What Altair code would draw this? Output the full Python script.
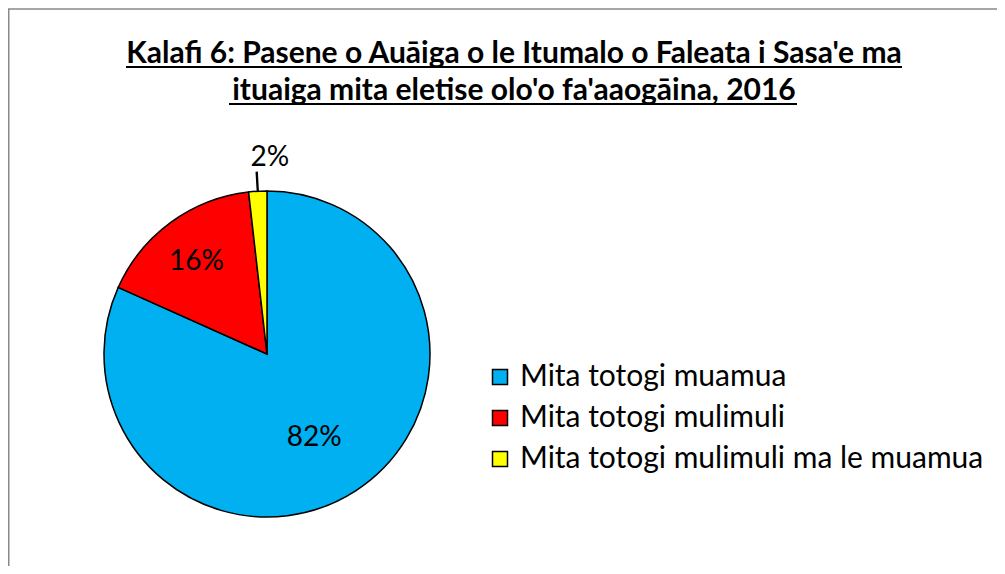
import altair as alt
import pandas as pd

categories = ["Mita totogi muamua", "Mita totogi mulimuli", "Mita totogi mulimuli ma le muamua"]
values = [81.7, 16.5, 1.8]
labels = ["82%", "16%", "2%"]
colors = ["#00B0F0", "#FF0000", "#FFFF00"]
order = [0, 1, 2]

title_lines = ["Kalafi 6: Pasene o Auāiga o le Itumalo o Faleata i Sasa'e ma",
               "ituaiga mita eletise olo'o fa'aaogāina, 2016"]

FONT = "Lato"
CX, CY, R = 259, 346, 163

df = pd.DataFrame({"category": categories, "value": values, "label": labels, "order": order})
one = pd.DataFrame({"a": [0]})

base = alt.Chart(df).transform_joinaggregate(total="sum(value)").transform_window(
    cum="sum(value)", sort=[alt.SortField("order")], frame=[None, 0]
).transform_calculate(
    start="(datum.cum - datum.value) / datum.total * 2 * PI",
    end="datum.cum / datum.total * 2 * PI",
    mid="(datum.cum - datum.value / 2) / datum.total * 2 * PI",
    mid_a="(datum.cum - datum.value / 2) / datum.total * 2 * PI - 0.003",
    mid_b="(datum.cum - datum.value / 2) / datum.total * 2 * PI + 0.003",
)

color = alt.Color(
    "category:N",
    scale=alt.Scale(domain=categories, range=colors),
    sort=categories,
    legend=alt.Legend(
        title=None, orient="none", legendX=477, legendY=354,
        symbolType="square", symbolSize=225, symbolStrokeColor="black",
        symbolStrokeWidth=1.5, symbolOpacity=1, labelFont=FONT, labelFontSize=30,
        labelColor="black", labelOffset=5, rowPadding=11, labelLimit=700,
    ),
)

pie = base.mark_arc(radius=R, stroke="black", strokeWidth=1.5).encode(
    x=alt.value(CX), y=alt.value(CY),
    theta=alt.Theta("start:Q", scale=None), theta2="end:Q",
    color=color,
)

def label_layer(idx, radius, dx=0, dy=0):
    return base.transform_filter(f"datum.order == {idx}").mark_text(
        radius=radius, font=FONT, fontSize=28, color="black",
        align="center", baseline="middle", dx=dx, dy=dy,
    ).encode(x=alt.value(CX), y=alt.value(CY),
             theta=alt.Theta("mid:Q", scale=None), text="label:N")

lab_blue = label_layer(0, 96, dx=-5, dy=3)
lab_red = label_layer(1, 116, dx=-2, dy=2)
lab_yel = label_layer(2, 196, dx=14)

leader = base.transform_filter("datum.order == 2").mark_arc(
    radius=R + 19, radius2=R, stroke="black", strokeWidth=1.3, fill="black"
).encode(x=alt.value(CX), y=alt.value(CY),
         theta=alt.Theta("mid_a:Q", scale=None), theta2="mid_b:Q")

t1 = alt.Chart(one).mark_text(font=FONT, fontSize=30, fontWeight="bold", color="black",
                              align="center", baseline="alphabetic").encode(
    x=alt.value(506), y=alt.value(55), text=alt.value(title_lines[0]))
t2 = alt.Chart(one).mark_text(font=FONT, fontSize=30, fontWeight="bold", color="black",
                              align="center", baseline="alphabetic").encode(
    x=alt.value(506), y=alt.value(92), text=alt.value(title_lines[1]))
u1 = alt.Chart(one).mark_rule(color="black", strokeWidth=2).encode(
    x=alt.value(118), x2=alt.value(894), y=alt.value(59))
u2 = alt.Chart(one).mark_rule(color="black", strokeWidth=2).encode(
    x=alt.value(221), x2=alt.value(789), y=alt.value(96))

border_l = alt.Chart(one).mark_rule(color="#898989", strokeWidth=1.5).encode(
    x=alt.value(0.75), y=alt.value(1), y2=alt.value(560))
border_t = alt.Chart(one).mark_rule(color="#898989", strokeWidth=1.5).encode(
    x=alt.value(0), x2=alt.value(990), y=alt.value(1))

chart = alt.layer(
    border_l, border_t, pie, leader, lab_blue, lab_red, lab_yel, t1, t2, u1, u2
).properties(
    width=989, height=558, padding=0, autosize=alt.AutoSizeParams(type="none"),
    background="white",
).configure_view(stroke=None)

chart.save("out.html", embed_options={"renderer": "svg", "actions": False})
